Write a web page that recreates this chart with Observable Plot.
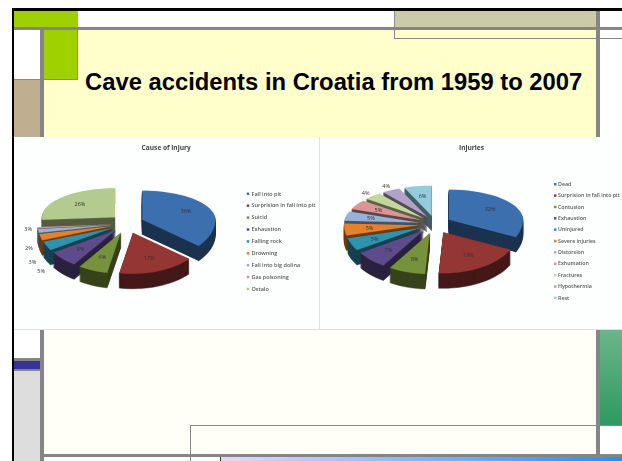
<!DOCTYPE html>
<html><head><meta charset="utf-8">
<script src="https://cdn.jsdelivr.net/npm/d3@7"></script>
<script src="https://cdn.jsdelivr.net/npm/@observablehq/plot@0.6"></script>
<style>
html,body{margin:0;padding:0;background:#fff;overflow:hidden}
#page{position:relative;width:622px;height:461px;overflow:hidden}
#page>div{position:absolute}
.chart{filter:blur(.6px)}
.chart svg{display:block}
</style></head>
<body><div id="page">
<div style="left:12px;top:8px;width:610px;height:3px;background:#000"></div>
<div style="left:12px;top:8px;width:2px;height:453px;background:#000"></div>
<div style="left:14px;top:11px;width:63px;height:17px;background:#9FD000"></div>
<div style="left:394px;top:11px;width:202px;height:16px;background:#CBCBA9"></div>
<div style="left:44px;top:30px;width:553px;height:107px;background:#FFFFCC"></div>
<div style="left:44px;top:30px;width:33px;height:49px;background:#9FD000;border-right:1px solid #888;border-bottom:1px solid #888"></div>
<div style="left:14px;top:79px;width:26px;height:58px;background:#C0AE90"></div>
<div style="left:14px;top:79px;width:26px;height:1px;background:#888"></div>
<div style="left:394px;top:11px;width:1px;height:28px;background:#888"></div>
<div style="left:394px;top:38px;width:228px;height:1px;background:#888"></div>
<div style="left:77px;top:11px;width:1px;height:17px;background:#aaa"></div>
<div style="left:14px;top:27px;width:608px;height:3px;background:#858585"></div>
<div style="left:40px;top:30px;width:4px;height:431px;background:#858585"></div>
<div style="left:596px;top:11px;width:4px;height:443px;background:#858585"></div>
<div style="left:44px;top:330px;width:552px;height:124px;background:#FFFFF8"></div>
<div style="left:14px;top:358px;width:26px;height:3px;background:#858585"></div>
<div style="left:14px;top:361px;width:26px;height:8px;background:#333399"></div>
<div style="left:14px;top:369px;width:26px;height:2px;background:#858585"></div>
<div style="left:14px;top:371px;width:26px;height:90px;background:#DDDDDD"></div>
<div style="left:600px;top:330px;width:22px;height:95px;background:linear-gradient(#6DB48C,#2E9960)"></div>
<div style="left:190px;top:425px;width:432px;height:1px;background:#888"></div>
<div style="left:190px;top:425px;width:1px;height:36px;background:#888"></div>
<div style="left:44px;top:454px;width:578px;height:3px;background:#858585"></div>
<div style="left:221px;top:457px;width:401px;height:4px;background:linear-gradient(90deg,#E6D8F5,#1E90FF)"></div>
<div style="left:220px;top:457px;width:1px;height:4px;background:#333"></div>
<div style="left:14px;top:137px;width:608px;height:193px;background:#FDFEFE"></div>
<div style="left:319px;top:137px;width:1px;height:193px;background:#E2E2E2"></div>
<div style="left:14px;top:329px;width:608px;height:1px;background:#E2E2E2"></div>
<div style="left:85px;top:68px;font:bold 23.8px 'Liberation Sans',sans-serif;line-height:28px;color:#000;white-space:nowrap">Cave accidents in Croatia from 1959 to 2007</div>
<div id="left" class="chart" style="left:0;top:130px"></div>
<div id="right" class="chart" style="left:320px;top:130px"></div>
</div>
<script>
const causeLabels = ["Fall into pit","Surprision in fall into pit","Suicid","Exhaustion","Falling rock","Drowning","Fall into big dolina","Gas poisoning","Ostalo"];
const causeValues = [36,17,6.5,6.5,3.5,2.5,1.5,0.5,26];
const causePrinted = ["36%","17%","6%","8%","5%","3%","2%","3%","26%"];
const causeColors = ["#3B6FAE","#943634","#76923C","#5F4A8B","#2F93AE","#E4812A","#95B3D7","#D99694","#B3CB8F"];
const injuryLabels = ["Dead","Surprision in fall into pit","Contusion","Exhaustion","Uninjured","Severe injuries","Distorsion","Exhumation","Fractures","Hypothermia","Rest"];
const injuryValues = [32,19,8,7,5,5,5,5,4,4,6];
const injuryPrinted = ["32%","19%","8%","7%","5%","5%","5%","5%","4%","4%","6%"];
const injuryColors = ["#3B6FAE","#943634","#76923C","#5F4A8B","#2F93AE","#E4812A","#95B3D7","#D99694","#C3D69B","#B3A2C7","#93CDDD"];
const font = "'Open Sans',sans-serif";

function pie3d(el, o){
  const {title,labels,values,printed,colors,width} = o;
  const arcs = d3.pie().sort(null)(values);
  const texts=[];
  const order = arcs.map((a,i)=>({a,i,mid:(a.startAngle+a.endAngle)/2}))
    .sort((p,q)=>Math.cos(q.mid)-Math.cos(p.mid));
  const rows=[];
  let gid=0;
  for(const {a,i,mid} of order){
    const ox=o.cx+o.ex*Math.sin(mid), oy=o.cy-o.ey*Math.cos(mid);
    const at=(t,r=1)=>{const c=Math.cos(t);return [ox+r*o.rx*Math.sin(t), oy-r*c*(c>0?o.ryBack:o.ryFront)];};
    const poly=[[ox,oy]];
    const n=Math.max(2,Math.ceil((a.endAngle-a.startAngle)/0.07));
    for(let k=0;k<=n;k++) poly.push(at(a.startAngle+(a.endAngle-a.startAngle)*k/n));
    const dark=d3.color(colors[i]).darker(2.2).formatHex();
    for(let d=o.depth;d>0;d-=1){
      const g=gid++;
      for(const [x,y] of poly) rows.push({x,y:y+d,g,fill:dark,sw:0.5});
    }
    const g=gid++;
    for(const [x,y] of poly) rows.push({x,y,g,fill:colors[i],sw:0.2});
    const outside=parseFloat(printed[i])<o.outsideBelow;
    const [lx,ly]=at(mid,outside?o.outR:0.66);
    const [nx,ny]=(outside&&o.nudge&&o.nudge[i])||[0,0];
    texts.push({x:lx+nx,y:ly+ny+(outside&&Math.cos(mid)<0?o.depth*0.7:0),t:printed[i]});
  }
  const legend=labels.map((t,i)=>({t,c:colors[i],y:o.legY+o.legStep*i}));
  el.append(Plot.plot({
    width,height:200,margin:0,
    style:{background:"transparent",overflow:"visible"},
    x:{domain:[0,width],range:[0,width],axis:null},
    y:{domain:[0,200],range:[0,200],axis:null},
    color:{type:"identity"},
    marks:[
      Plot.line(rows,{x:"x",y:"y",z:"g",fill:"fill",stroke:"fill",strokeWidth:"sw"}),
      Plot.text(texts,{x:"x",y:"y",text:"t",fontSize:5.5,fill:"#333",fontFamily:font}),
      Plot.text([title],{x:o.titleX,y:17.5,text:d=>d,fontSize:6.6,fontWeight:"bold",fill:"#444",fontFamily:font}),
      Plot.dot(legend,{x:o.swX,y:"y",r:1.4,symbol:"square",fill:"c"}),
      Plot.text(legend,{x:o.txX,y:"y",text:"t",textAnchor:"start",fontSize:o.legFont,fontWeight:600,fill:"#555",fontFamily:font})
    ]
  }));
}
pie3d(document.getElementById("left"),{title:"Cause of injury",labels:causeLabels,values:causeValues,printed:causePrinted,colors:causeColors,width:320,
  cx:126.7,cy:93.3,rx:73,ryBack:29,ryFront:41,ex:16.7,ey:9.5,depth:15,outsideBelow:6,outR:1.16,titleX:165.7,
  nudge:{4:[5,12],5:[3,13],6:[2,6],7:[2,-10]},
  swX:247.5,txX:251,legY:63.3,legStep:11.9,legFont:5.5});
pie3d(document.getElementById("right"),{title:"Injuries",labels:injuryLabels,values:injuryValues,printed:injuryPrinted,colors:injuryColors,width:302,
  cx:114.3,cy:94,rx:74,ryBack:30,ryFront:41,ex:16.7,ey:9,depth:15,outsideBelow:5,outR:1.14,titleX:151,
  swX:234.7,txX:237.5,legY:53.7,legStep:11.37,legFont:5.3});
</script>
</body></html>
